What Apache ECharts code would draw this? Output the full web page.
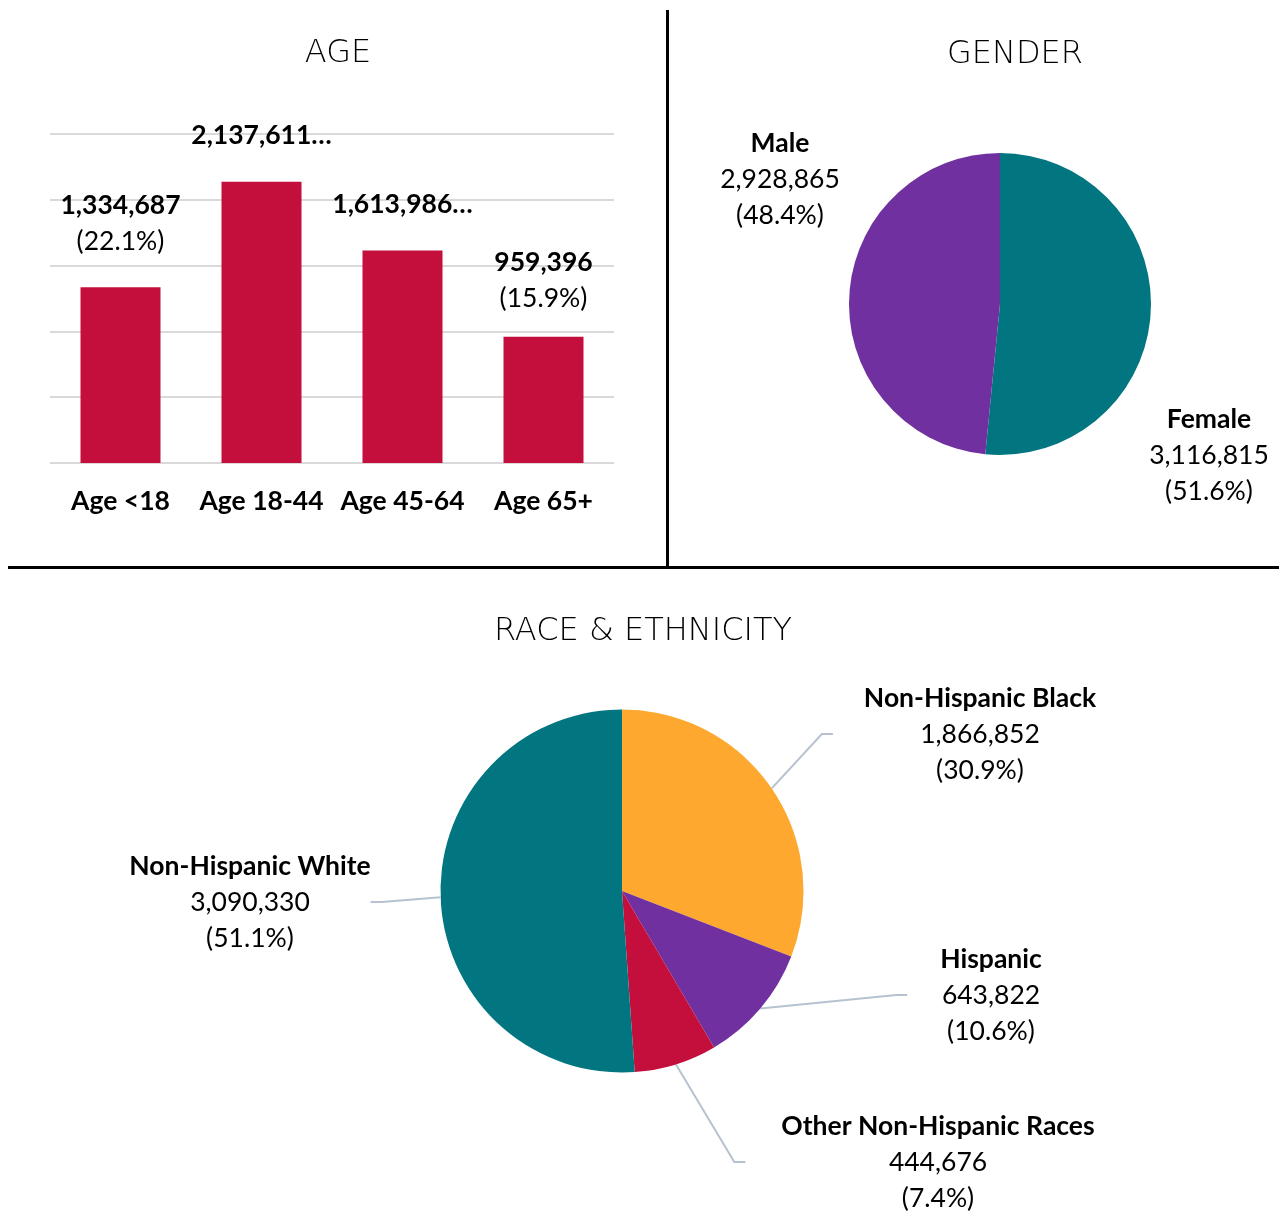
<!DOCTYPE html>
<html><head><meta charset="utf-8">
<script src="https://cdn.jsdelivr.net/npm/echarts@6/dist/echarts.min.js"></script>
<style>html,body{margin:0;padding:0;background:#fff}#c{width:1279px;height:1213px}</style>
</head><body><div id="c"></div>
<script>
// ---- data ----
const ageCategories = ['Age <18', 'Age 18-44', 'Age 45-64', 'Age 65+'];
const ageValues = [1334687, 2137611, 1613986, 959396];
const ageLabelTruncated = [false, true, true, false];
const ageAxisTicks = [0, 500000, 1000000, 1500000, 2000000, 2500000];
const genderNames = ['Female', 'Male'];
const genderValues = [3116815, 2928865];
const raceNames = ['Non-Hispanic Black', 'Hispanic', 'Other Non-Hispanic Races', 'Non-Hispanic White'];
const raceValues = [1866852, 643822, 444676, 3090330];
const sectionTitles = ['AGE', 'GENDER', 'RACE & ETHNICITY'];

// ---- styling / layout ----
const TEAL = '#017681', PURPLE = '#7030A0', RED = '#C40F3C', ORANGE = '#FEA82F';
const FONT = 'Lato';
const FS = 26.5;
const titleAnchors = [[338, 54], [1015, 55], [643, 632]];
const ageLabelDistance = [28, 28, 28, 20];
const genderLabelAnchors = [[1209, 455], [780, 179]];
const raceLabelAnchors = [[980, 734], [991, 995], [938, 1162], [250, 902]];
const raceLabelGap = [31, 33, 36, 0];

const fmt = v => v.toLocaleString('en-US');
const ageTotal = ageValues.reduce((a, b) => a + b, 0);
const richText = {
  n: { fontFamily: FONT, fontWeight: 'bold', fontSize: FS, lineHeight: 36, color: '#000' },
  v: { fontFamily: FONT, fontWeight: 'normal', fontSize: FS, lineHeight: 36, color: '#000' }
};
const pieLabelFormatter = p => `{n|${p.name}}\n{v|${fmt(p.value)}}\n{v|(${p.percent.toFixed(1)}%)}`;
const anchorLayout = anchors => p => ({
  x: anchors[p.dataIndex][0], y: anchors[p.dataIndex][1], align: 'center', verticalAlign: 'middle'
});

const chart = echarts.init(document.getElementById('c'), null, { renderer: 'canvas' });
chart.setOption({
  animation: false,
  backgroundColor: '#fff',
  graphic: [
    { type: 'line', shape: { x1: 667.5, y1: 10, x2: 667.5, y2: 567 }, style: { stroke: '#000', lineWidth: 3 } },
    { type: 'line', shape: { x1: 8, y1: 567.5, x2: 1279, y2: 567.5 }, style: { stroke: '#000', lineWidth: 3 } },
    ...titleAnchors.map((pos, i) => ({
      type: 'text', x: pos[0], y: pos[1],
      style: { text: sectionTitles[i], align: 'center', verticalAlign: 'middle', fill: '#000',
        fontFamily: 'DejaVu Sans', fontWeight: 200, fontSize: 32 }
    }))
  ],
  grid: { left: 50, right: 1279 - 614, top: 134, bottom: 1213 - 463 },
  xAxis: {
    type: 'category', data: ageCategories,
    axisLine: { show: false }, axisTick: { show: false },
    axisLabel: { interval: 0, fontFamily: FONT, fontWeight: 'bold', fontSize: FS, color: '#000', margin: 25 }
  },
  yAxis: {
    type: 'value', min: ageAxisTicks[0], max: ageAxisTicks[ageAxisTicks.length - 1],
    interval: ageAxisTicks[1] - ageAxisTicks[0],
    axisLabel: { show: false }, axisLine: { show: false }, axisTick: { show: false },
    splitLine: { lineStyle: { color: '#D9D9D9', width: 2 } }
  },
  series: [
    {
      type: 'bar', barWidth: 80,
      data: ageValues.map((v, i) => ({ value: v, label: { distance: ageLabelDistance[i] } })),
      itemStyle: { color: RED },
      label: {
        show: true, position: 'top', rich: richText,
        formatter: p => ageLabelTruncated[p.dataIndex]
          ? `{n|${fmt(p.value)}…}`
          : `{n|${fmt(p.value)}}\n{v|(${(p.value / ageTotal * 100).toFixed(1)}%)}`
      }
    },
    {
      type: 'pie', center: [1000, 304], radius: 151, startAngle: 90, clockwise: true,
      percentPrecision: 1,
      data: genderNames.map((n, i) => ({ name: n, value: genderValues[i] })),
      color: [TEAL, PURPLE],
      label: { show: true, position: 'inside', formatter: pieLabelFormatter, rich: richText, align: 'center' },
      labelLine: { show: false },
      labelLayout: anchorLayout(genderLabelAnchors)
    },
    {
      type: 'pie', center: [622, 891], radius: 181.5, startAngle: 90, clockwise: true,
      percentPrecision: 1,
      data: raceNames.map((n, i) => ({
        name: n, value: raceValues[i],
        label: { padding: [0, raceLabelGap[i]], backgroundColor: 'rgba(255,255,255,0)' }
      })),
      color: [ORANGE, PURPLE, RED, TEAL],
      label: { show: true, position: 'outside', formatter: pieLabelFormatter, rich: richText, align: 'center', overflow: 'none' },
      labelLine: { show: true, length: 12, length2: 11, lineStyle: { color: '#B7C2D1', width: 2 } },
      labelLayout: anchorLayout(raceLabelAnchors)
    }
  ]
});
</script></body></html>
